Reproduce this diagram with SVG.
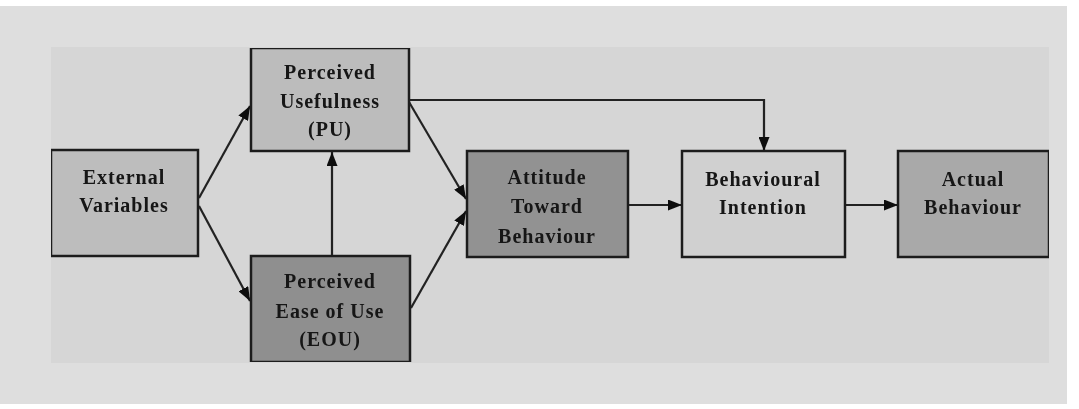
<svg xmlns="http://www.w3.org/2000/svg" width="1079" height="409" viewBox="0 0 1079 409">
  <style>
    .box { stroke: #1e1e1e; stroke-width: 2.5; }
    .lbl { font-family: "Liberation Serif", "Times New Roman", serif; font-size: 20px; font-weight: bold; letter-spacing: 1px; fill: #151515; text-anchor: middle; }
    .edge { stroke: #222; stroke-width: 2.2; fill: none; marker-end: url(#head); }
  </style>
  <defs>
    <marker id="head" viewBox="0 0 14 11" refX="14" refY="5.5" markerWidth="14" markerHeight="11" markerUnits="userSpaceOnUse" orient="auto">
      <path d="M0,0 L14,5.5 L0,11 Z" fill="#111"/>
    </marker>
    <filter id="soft" x="0" y="0" width="1" height="1">
      <feGaussianBlur stdDeviation="0.5"/>
    </filter>
  </defs>

  <!-- page and figure panel -->
  <rect x="0" y="0" width="1079" height="409" fill="#ffffff"/>
  <rect x="0" y="6" width="1067" height="398" fill="#dedede"/>
  <rect x="51" y="47" width="998" height="316" fill="#d6d6d6"/>

  <g filter="url(#soft)">
    <!-- connectors -->
    <g id="connectors">
      <line class="edge" x1="199" y1="198" x2="250" y2="106"/>
      <line class="edge" x1="199" y1="206" x2="250" y2="301"/>
      <line class="edge" x1="332" y1="256" x2="332" y2="152"/>
      <line class="edge" x1="409" y1="102" x2="466" y2="199"/>
      <line class="edge" x1="411" y1="308" x2="466" y2="211"/>
      <polyline class="edge" points="409,100 764,100 764,151"/>
      <line class="edge" x1="628" y1="205" x2="682" y2="205"/>
      <line class="edge" x1="845" y1="205" x2="898" y2="205"/>
    </g>

    <g id="external-variables">
      <rect class="box" x="51" y="150" width="147" height="106" fill="#bdbdbd"/>
      <text class="lbl" x="124" y="184">External</text>
      <text class="lbl" x="124" y="212">Variables</text>
    </g>

    <g id="perceived-usefulness">
      <rect class="box" x="251" y="48" width="158" height="103" fill="#bcbcbc"/>
      <text class="lbl" x="330" y="79">Perceived</text>
      <text class="lbl" x="330" y="108">Usefulness</text>
      <text class="lbl" x="330" y="136">(PU)</text>
    </g>

    <g id="perceived-ease-of-use">
      <rect class="box" x="251" y="256" width="159" height="106" fill="#8f8f8f"/>
      <text class="lbl" x="330" y="288">Perceived</text>
      <text class="lbl" x="330" y="318">Ease of Use</text>
      <text class="lbl" x="330" y="346">(EOU)</text>
    </g>

    <g id="attitude">
      <rect class="box" x="467" y="151" width="161" height="106" fill="#929292"/>
      <text class="lbl" x="547" y="184">Attitude</text>
      <text class="lbl" x="547" y="213">Toward</text>
      <text class="lbl" x="547" y="243">Behaviour</text>
    </g>

    <g id="behavioural-intention">
      <rect class="box" x="682" y="151" width="163" height="106" fill="#d0d0d0"/>
      <text class="lbl" x="763" y="186">Behavioural</text>
      <text class="lbl" x="763" y="214">Intention</text>
    </g>

    <g id="actual-behaviour">
      <rect class="box" x="898" y="151" width="151" height="106" fill="#a9a9a9"/>
      <text class="lbl" x="973" y="186">Actual</text>
      <text class="lbl" x="973" y="214">Behaviour</text>
    </g>
  </g>
</svg>
